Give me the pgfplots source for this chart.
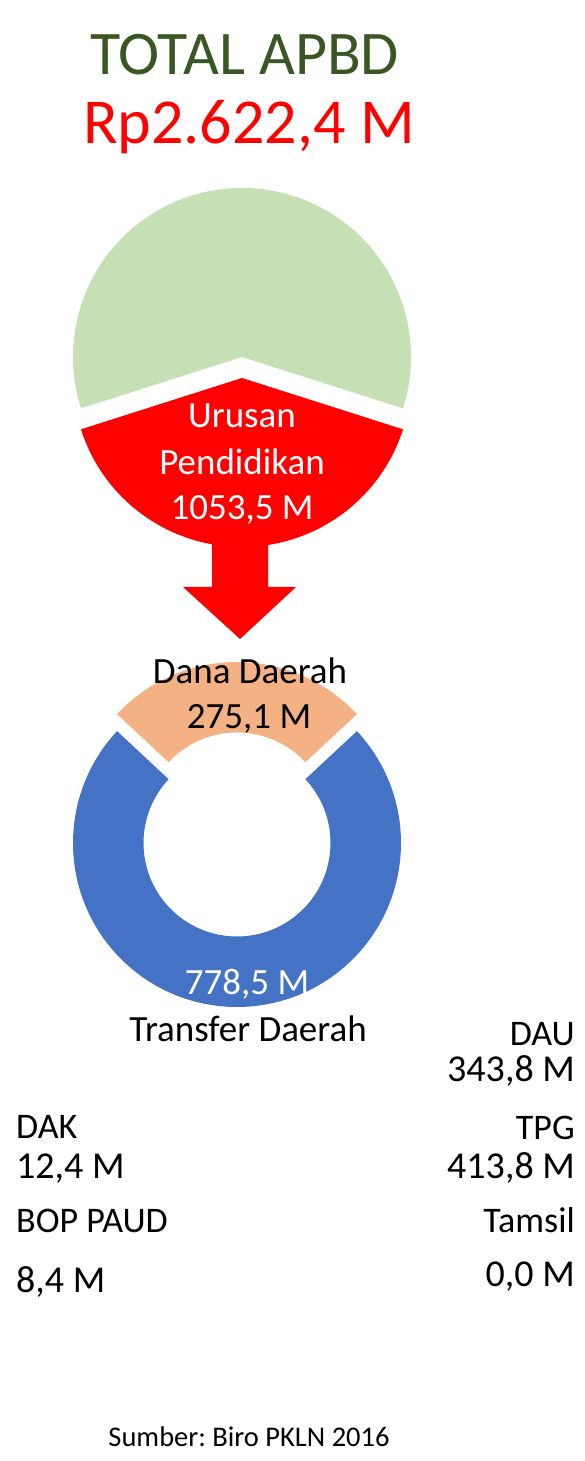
\documentclass[border=0pt]{standalone}
\usepackage{pgfplots}
\pgfplotsset{compat=1.18}
\usepackage{pgfplotstable}
\usepackage{fontspec}
\setmainfont{Carlito}
\frenchspacing
\definecolor{titlegreen}{HTML}{385723}
\definecolor{pgreen}{HTML}{C5E0B4}
\definecolor{pred}{HTML}{FF0000}
\definecolor{porange}{HTML}{F4B183}
\definecolor{pblue}{HTML}{4472C4}
\pgfplotstableread{
part value
Pendidikan 1053.5
Lainnya 1568.9
}\apbd
\pgfplotstableread{
part value
DanaDaerah 275.1
TransferDaerah 778.5
}\pend
\newcommand\fs[1]{\fontsize{#1}{#1}\selectfont}
\begin{document}%
\begin{tikzpicture}
\pgfplotstablegetelem{0}{value}\of\apbd \let\vPend\pgfplotsretval
\pgfplotstablegetelem{1}{value}\of\apbd \let\vLain\pgfplotsretval
\pgfplotstablegetelem{0}{value}\of\pend \let\vDana\pgfplotsretval
\pgfplotstablegetelem{1}{value}\of\pend \let\vTrans\pgfplotsretval
\pgfmathsetmacro\fracRed{\vPend/(\vPend+\vLain)}
\pgfmathsetmacro\spanRed{360*\fracRed}
\pgfmathsetmacro\aRedA{270-\spanRed/2}
\pgfmathsetmacro\aRedB{270+\spanRed/2}
\pgfmathsetmacro\aGreenB{\aRedA+360}
\pgfmathsetmacro\fracOr{\vDana/(\vDana+\vTrans)}
\pgfmathsetmacro\spanOr{360*\fracOr}
\pgfmathsetmacro\aOrA{90-\spanOr/2}
\pgfmathsetmacro\aOrB{90+\spanOr/2}
\pgfmathsetmacro\aBlueB{\aOrA+360}
\pgfmathsetmacro\aOrBin{\aOrB+180}
\pgfmathsetmacro\aBlueBin{\aBlueB+180}
\begin{axis}[x=1pt,y=1pt,xmin=0,xmax=585,ymin=0,ymax=1461,
  scale only axis, hide axis, clip=false]
\path (rel axis cs:0,0) rectangle (rel axis cs:1,1);
% pie: total APBD
\fill[pgreen] (axis cs:242,1104) -- ++(\aRedB:169pt) arc[start angle=\aRedB, end angle=\aGreenB, radius=169pt] -- cycle;
\fill[pred] (axis cs:242,1083) -- ++(\aRedA:169pt) arc[start angle=\aRedA, end angle=\aRedB, radius=169pt] -- cycle;
% arrow
\fill[pred] (axis cs:212,945) -- (axis cs:268,945) -- (axis cs:268,874) -- (axis cs:296,874) -- (axis cs:240,822) -- (axis cs:183,874) -- (axis cs:212,874) -- cycle;
% donut
\fill[porange] (axis cs:237,635) ++(\aOrA:164pt) arc[start angle=\aOrA, end angle=\aOrB, radius=164pt] -- ++(\aOrBin:70.5pt) arc[start angle=\aOrB, end angle=\aOrA, radius=93.5pt] -- cycle;
\fill[pblue] (axis cs:237,618) ++(\aOrB:164pt) arc[start angle=\aOrB, end angle=\aBlueB, radius=164pt] -- ++(\aBlueBin:70.5pt) arc[start angle=\aBlueB, end angle=\aOrB, radius=93.5pt] -- cycle;
% texts
\node[anchor=base, text=titlegreen, font=\fs{62}, inner sep=0pt] at (axis cs:244.5,1386) {TOTAL APBD};
\node[anchor=base, text=pred, font=\fs{64}, inner sep=0pt] at (axis cs:249,1317) {Rp2.622,4 M};
\node[anchor=base, text=white, font=\fs{37}, inner sep=0pt] at (axis cs:242,1033) {Urusan};
\node[anchor=base, text=white, font=\fs{37}, inner sep=0pt] at (axis cs:242,986) {Pendidikan};
\node[anchor=base, text=white, font=\fs{37}, inner sep=0pt] at (axis cs:242,941) {1053,5 M};
\node[anchor=base, text=black, font=\fs{37}, inner sep=0pt] at (axis cs:250,777) {Dana Daerah};
\node[anchor=base, text=black, font=\fs{37}, inner sep=0pt] at (axis cs:249,732) {275,1 M};
\node[anchor=base, text=white, font=\fs{37}, inner sep=0pt] at (axis cs:247,466) {778,5 M};
\node[anchor=base, text=black, font=\fs{37}, inner sep=0pt] at (axis cs:248,419) {Transfer Daerah};
\node[anchor=base east, font=\fs{36}, inner sep=0pt] at (axis cs:575,415) {DAU};
\node[anchor=base east, font=\fs{38}, inner sep=0pt] at (axis cs:575,379) {343,8 M};
\node[anchor=base east, font=\fs{36}, inner sep=0pt] at (axis cs:575,321) {TPG};
\node[anchor=base east, font=\fs{38}, inner sep=0pt] at (axis cs:575,282) {413,8 M};
\node[anchor=base east, font=\fs{36}, inner sep=0pt] at (axis cs:575,228) {Tamsil};
\node[anchor=base east, font=\fs{38}, inner sep=0pt] at (axis cs:575,174) {0,0 M};
\node[anchor=base west, font=\fs{36}, inner sep=0pt] at (axis cs:16,322) {DAK};
\node[anchor=base west, font=\fs{38}, inner sep=0pt] at (axis cs:16,282) {12,4 M};
\node[anchor=base west, font=\fs{36}, inner sep=0pt] at (axis cs:16,228) {BOP PAUD};
\node[anchor=base west, font=\fs{38}, inner sep=0pt] at (axis cs:16,168) {8,4 M};
\node[anchor=base, font=\fs{28.5}, inner sep=0pt] at (axis cs:249,14) {Sumber: Biro PKLN 2016};
\end{axis}
\end{tikzpicture}%
\end{document}
